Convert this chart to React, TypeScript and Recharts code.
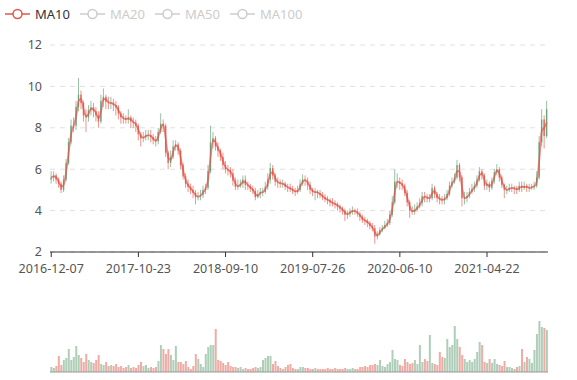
import React from 'react';
import { ComposedChart, Bar, Line, XAxis, YAxis, CartesianGrid, Cell } from 'recharts';

// weekly-ish samples (close / high / low / volume)
const closes = [
  5.6, 5.7, 5.5, 5.3, 5.0, 5.5, 6.3, 7.3, 8.1, 8.1,
  9.0, 9.6, 9.2, 8.6, 8.5, 8.85, 9.0, 8.8, 8.6, 8.3,
  9.3, 9.5, 9.25, 9.2, 9.2, 9.1, 9.0, 8.7, 8.5, 8.45,
  8.4, 8.5, 8.3, 8.25, 8.1, 7.7, 7.5, 7.55, 7.65, 7.65,
  7.55, 7.4, 7.35, 7.8, 8.2, 8.1, 6.8, 6.3, 6.6, 7.1,
  7.2, 6.9, 6.2, 5.65, 5.3, 5.15, 5.0, 4.85, 4.65, 4.7,
  4.75, 5.0, 5.1, 5.9, 7.3, 7.5, 7.1, 6.9, 6.6, 6.2,
  6.0, 5.95, 5.8, 5.45, 5.15, 5.2, 5.3, 5.5, 5.25, 5.2,
  5.05, 4.95, 4.65, 4.8, 4.9, 4.9, 5.15, 5.5, 6.05, 5.7,
  5.4, 5.35, 5.3, 5.3, 5.15, 5.1, 5.05, 4.95, 4.9, 5.0,
  5.3, 5.5, 5.45, 5.25, 5.0, 4.9, 4.9, 4.85, 4.75, 4.65,
  4.55, 4.5, 4.4, 4.35, 4.3, 4.2, 4.1, 4.0, 3.8, 3.85,
  3.95, 4.0, 3.95, 3.85, 3.7, 3.55, 3.5, 3.4, 3.25, 3.15,
  2.75, 2.85, 3.05, 3.15, 3.3, 3.4, 3.8, 4.4, 5.4, 5.4,
  5.3, 5.2, 4.85, 4.4, 4.0, 3.95, 4.05, 4.2, 4.35, 4.7,
  4.65, 4.6, 4.6, 5.1, 4.8, 4.6, 4.55, 4.5, 4.6, 4.8,
  5.2, 5.4, 5.6, 6.2, 5.6, 4.6, 4.6, 4.7, 4.9, 5.05,
  5.2, 5.5, 5.9, 5.7, 5.2, 5.3, 5.1, 5.45, 5.85, 6.0,
  5.6, 5.25, 5.0, 5.0, 5.1, 5.1, 5.05, 5.0, 5.2, 5.1,
  5.2, 5.1, 5.1, 5.15, 5.2, 5.6, 7.3, 8.4, 7.6, 8.9,
];

const highs = [
  5.9, 5.9, 5.8, 5.6, 5.4, 5.7, 6.5, 7.5, 8.4, 8.5,
  9.3, 10.4, 9.8, 9.3, 8.9, 9.1, 9.3, 9.2, 9.0, 8.8,
  9.6, 9.9, 9.6, 9.5, 9.5, 9.4, 9.3, 9.1, 8.8, 8.7,
  8.6, 8.9, 8.6, 8.5, 8.4, 8.2, 7.8, 7.8, 7.9, 7.9,
  7.9, 7.7, 7.6, 8.0, 8.7, 8.4, 8.2, 6.9, 6.9, 7.4,
  7.4, 7.3, 7.0, 6.3, 5.8, 5.5, 5.3, 5.2, 5.0, 4.9,
  5.0, 5.2, 5.3, 6.2, 8.1, 7.8, 7.6, 7.3, 7.0, 6.8,
  6.4, 6.2, 6.1, 6.0, 5.6, 5.5, 5.5, 5.7, 5.7, 5.4,
  5.3, 5.2, 5.1, 5.0, 5.1, 5.1, 5.4, 5.8, 6.3, 6.2,
  5.8, 5.6, 5.5, 5.5, 5.4, 5.3, 5.3, 5.2, 5.1, 5.2,
  5.5, 5.75, 5.7, 5.6, 5.4, 5.1, 5.1, 5.0, 5.0, 4.9,
  4.8, 4.7, 4.6, 4.6, 4.5, 4.4, 4.3, 4.2, 4.1, 4.0,
  4.1, 4.2, 4.1, 4.1, 3.95, 3.8, 3.7, 3.6, 3.5, 3.4,
  3.3, 3.0, 3.2, 3.3, 3.5, 3.6, 4.0, 4.7, 6.0, 5.8,
  5.6, 5.5, 5.3, 5.0, 4.5, 4.2, 4.3, 4.4, 4.6, 4.9,
  4.9, 4.8, 4.8, 5.3, 5.2, 4.9, 4.8, 4.7, 4.8, 5.0,
  5.4, 5.6, 5.8, 6.45, 6.3, 5.7, 4.9, 4.9, 5.1, 5.3,
  5.4, 5.7, 6.1, 6.0, 5.8, 5.5, 5.4, 5.6, 6.0, 6.25,
  6.1, 5.7, 5.3, 5.2, 5.3, 5.3, 5.2, 5.2, 5.4, 5.4,
  5.4, 5.3, 5.3, 5.3, 5.4, 5.9, 7.6, 8.9, 8.6, 9.3,
];

const lows = [
  5.3, 5.4, 5.3, 5.1, 4.85, 4.9, 5.4, 6.2, 7.2, 7.8,
  7.9, 8.8, 8.9, 8.3, 7.8, 8.3, 8.6, 8.5, 8.3, 8.0,
  8.2, 9.0, 8.9, 8.9, 8.9, 8.8, 8.6, 8.4, 8.2, 8.2,
  8.2, 8.2, 8.0, 8.0, 7.8, 7.4, 7.1, 7.3, 7.4, 7.4,
  7.3, 7.2, 7.1, 7.2, 7.7, 7.8, 6.6, 6.0, 6.1, 6.5,
  6.9, 6.7, 6.0, 5.5, 5.1, 4.9, 4.8, 4.6, 4.3, 4.5,
  4.5, 4.6, 4.8, 5.0, 5.8, 7.0, 6.9, 6.6, 6.4, 6.0,
  5.8, 5.7, 5.6, 5.2, 5.0, 5.0, 5.1, 5.1, 5.0, 5.0,
  4.9, 4.8, 4.5, 4.6, 4.6, 4.7, 4.8, 5.0, 5.3, 5.5,
  5.2, 5.1, 5.1, 5.1, 5.0, 4.9, 4.9, 4.8, 4.7, 4.8,
  4.9, 5.2, 5.2, 5.0, 4.8, 4.7, 4.5, 4.6, 4.6, 4.5,
  4.4, 4.3, 4.2, 4.2, 4.1, 4.0, 3.9, 3.8, 3.5, 3.6,
  3.7, 3.8, 3.8, 3.7, 3.5, 3.4, 3.3, 3.2, 3.1, 3.0,
  2.4, 2.6, 2.8, 2.95, 3.1, 3.2, 3.3, 3.7, 4.3, 5.1,
  5.0, 5.0, 4.7, 4.2, 3.65, 3.8, 3.8, 3.95, 4.1, 4.2,
  4.4, 4.4, 4.4, 4.5, 4.6, 4.4, 4.3, 4.3, 4.3, 4.5,
  4.7, 5.1, 5.3, 5.5, 5.4, 4.2, 4.3, 4.4, 4.6, 4.8,
  4.9, 5.1, 5.4, 5.5, 5.0, 5.0, 4.9, 5.0, 5.3, 5.7,
  5.4, 5.1, 4.6, 4.8, 4.9, 4.9, 4.8, 4.8, 4.9, 4.9,
  5.0, 4.9, 4.9, 5.0, 5.0, 5.1, 5.5, 7.1, 7.0, 7.5,
];

const volumes = [
  5, 4, 6, 16, 7, 12, 14, 23, 12, 15,
  26, 17, 14, 10, 18, 12, 10, 9, 12, 17,
  8, 7, 10, 6, 7, 6, 8, 5, 6, 4,
  5, 7, 4, 5, 4, 7, 10, 6, 7, 4,
  5, 4, 5, 11, 27, 23, 18, 23, 17, 12,
  26, 10, 10, 8, 11, 5, 3, 6, 18, 13,
  8, 5, 18, 25, 27, 27, 43, 12, 11, 9,
  7, 10, 6, 5, 5, 4, 5, 3, 4, 3,
  3, 4, 5, 4, 5, 12, 14, 16, 16, 8,
  11, 6, 4, 3, 5, 7, 8, 4, 3, 3,
  5, 5, 4, 4, 3, 3, 4, 3, 3, 3,
  3, 4, 3, 3, 4, 3, 3, 3, 4, 3,
  3, 4, 3, 3, 5, 5, 6, 5, 7, 7,
  8, 7, 12, 6, 5, 8, 10, 22, 13, 12,
  7, 6, 13, 10, 8, 9, 12, 8, 27, 10,
  13, 11, 37, 9, 8, 7, 20, 15, 14, 33,
  25, 27, 46, 33, 25, 17, 13, 10, 12, 10,
  13, 20, 30, 27, 10, 9, 13, 9, 13, 8,
  7, 6, 11, 5, 5, 4, 3, 5, 6, 23,
  10, 15, 13, 9, 22, 38, 51, 45, 44, 42,
];

const firstOpen = 5.5;
const tickIdx = [0, 35, 70, 105, 140, 175];
const tickDates = ['2016-12-07', '2017-10-23', '2018-09-10', '2019-07-26', '2020-06-10', '2021-04-22'];
const maNames = ['MA10', 'MA20', 'MA50', 'MA100'];

const UP = '#5e9d72';
const DOWN = '#e0584a';
const MA_COLOR = '#e2564a';
const FONT = '"Noto Sans", "Open Sans", sans-serif';

const data = closes.map((c, i) => {
  const open = i === 0 ? firstOpen : closes[i - 1];
  const ma = i === 0 ? c : (c + closes[i - 1]) / 2;
  return { i, open, close: c, range: [lows[i], highs[i]], vol: volumes[i], ma, up: c >= open };
});

function Candle(props: any) {
  const { x, y, width, height, payload } = props;
  if (!payload || x == null) return null;
  const [lo, hi] = payload.range;
  const top = Math.min(y, y + height);
  const h = Math.abs(height);
  const py = (v: number) => top + ((hi - v) / (hi - lo || 1)) * h;
  const color = payload.up ? UP : DOWN;
  const cx = x + width / 2;
  const bTop = py(Math.max(payload.open, payload.close));
  const bBot = py(Math.min(payload.open, payload.close));
  return (
    <g>
      <line x1={cx} x2={cx} y1={top} y2={top + h} stroke={color} strokeWidth={0.8} strokeOpacity={0.8} />
      <rect x={x + width * 0.15} y={bTop} width={width * 0.7} height={Math.max(bBot - bTop, 0.8)} fill={color} fillOpacity={0.85} />
    </g>
  );
}

function LegendBar() {
  return (
    <div style={{ position: 'absolute', left: 5, top: 5, display: 'flex', gap: 10, fontFamily: FONT, fontSize: 13 }}>
      {maNames.map((name, k) => {
        const c = k === 0 ? MA_COLOR : '#ccc';
        return (
          <div key={name} style={{ display: 'flex', alignItems: 'center', height: 18 }}>
            <svg width={25} height={14} style={{ marginRight: 5 }}>
              <line x1={0} x2={25} y1={7} y2={7} stroke={c} strokeWidth={1.5} />
              <circle cx={12.5} cy={7} r={4.5} fill="#fff" stroke={c} strokeWidth={1.5} />
            </svg>
            <span style={{ color: k === 0 ? '#333' : '#ccc' }}>{name}</span>
          </div>
        );
      })}
    </div>
  );
}

export default function App() {
  return (
    <div style={{ position: 'relative', width: 577, height: 380, background: '#fff', fontFamily: FONT }}>
      <style>{'body{margin:0}'}</style>
      <LegendBar />
      <div style={{ position: 'absolute', left: 0, top: 0 }}>
        <ComposedChart width={577} height={280} data={data} margin={{ top: 45, right: 29, left: 0, bottom: 3 }} barCategoryGap="5%">
          <CartesianGrid vertical={false} stroke="#e0e0e0" strokeDasharray="5 5" />
          <XAxis
            dataKey="i"
            type="category"
            ticks={tickIdx}
            interval={0}
            tickFormatter={(v) => tickDates[tickIdx.indexOf(v)] ?? ''}
            stroke="#333"
            tickSize={5}
            tickMargin={7}
            height={25}
            tick={{ fill: '#555', fontSize: 12.5 }}
          />
          <YAxis
            domain={[2, 12]}
            ticks={[2, 4, 6, 8, 10, 12]}
            allowDataOverflow
            axisLine={false}
            tickLine={false}
            width={50}
            tick={{ fill: '#555', fontSize: 12.5 }}
          />
          <Bar dataKey="range" shape={<Candle />} isAnimationActive={false} />
          <Line dataKey="ma" type="monotone" stroke={MA_COLOR} strokeWidth={1.8} strokeOpacity={0.7} dot={false} isAnimationActive={false} />
        </ComposedChart>
      </div>
      <div style={{ position: 'absolute', left: 0, top: 280 }}>
        <ComposedChart width={577} height={100} data={data} margin={{ top: 20, right: 29, left: 50, bottom: 0 }} barCategoryGap="15%">
          <XAxis dataKey="i" type="category" tick={false} tickLine={false} stroke="#999" height={8} />
          <YAxis hide domain={[0, 72]} />
          <Bar dataKey="vol" isAnimationActive={false} fillOpacity={0.5}>
            {data.map((d) => (
              <Cell key={d.i} fill={d.up ? UP : DOWN} />
            ))}
          </Bar>
        </ComposedChart>
      </div>
    </div>
  );
}
